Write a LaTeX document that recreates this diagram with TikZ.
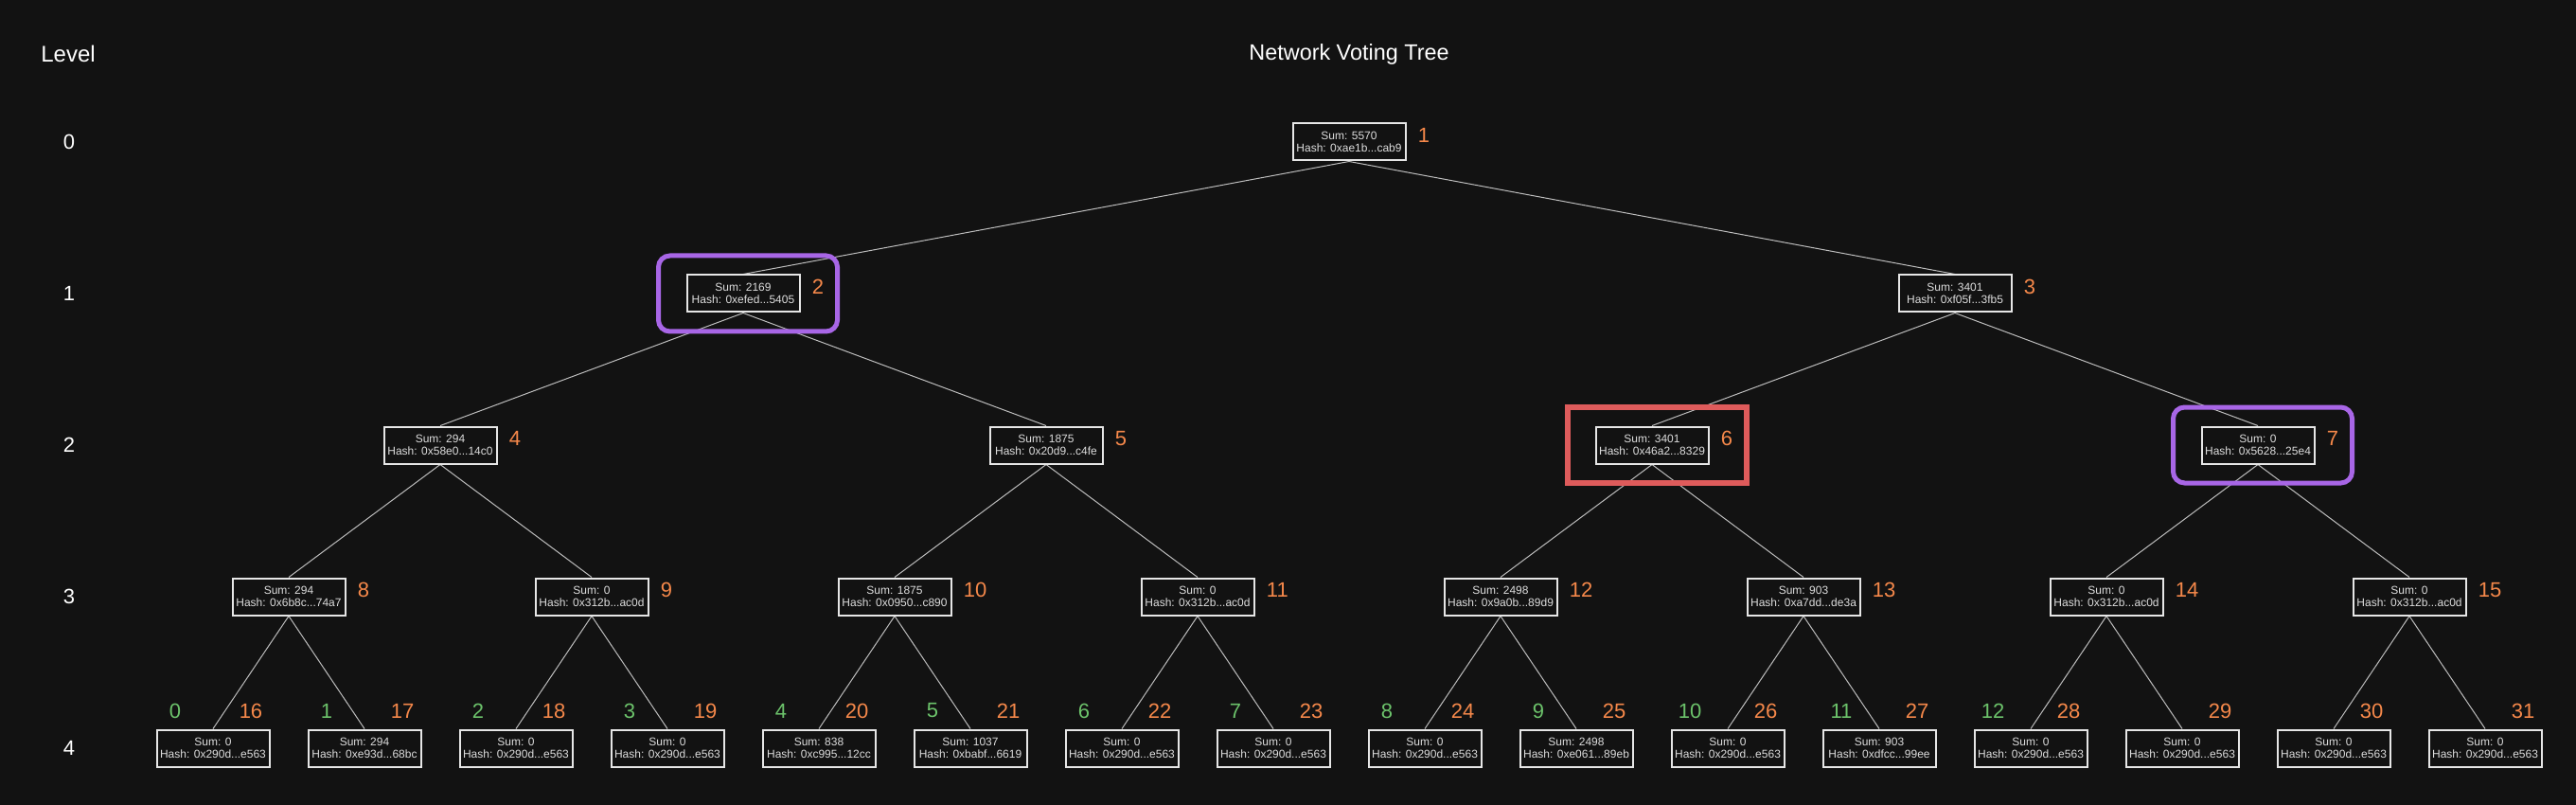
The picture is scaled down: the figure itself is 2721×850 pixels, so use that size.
\documentclass[tikz,border=0pt]{standalone}
\usepackage{fontspec}
\setmainfont{Liberation Sans}
\usetikzlibrary{calc,positioning}
\definecolor{bgdark}{HTML}{121212}
\definecolor{boxline}{HTML}{E6E6E6}
\definecolor{boxtext}{HTML}{DDDDDD}
\definecolor{edgegrey}{HTML}{BDBDBD}
\definecolor{idxorange}{HTML}{F5884A}
\definecolor{leafgreen}{HTML}{6CC36B}
\definecolor{pickpurple}{HTML}{A866E6}
\definecolor{pickred}{HTML}{DE5B5B}
\pgfdeclarelayer{back}
\pgfdeclarelayer{wires}
\pgfsetlayers{back,wires,main}
\tikzset{
  treenode/.style={draw=boxline,line width=1pt,fill=bgdark,text=boxtext,
    minimum width=59.5pt,minimum height=19.5pt,inner sep=0pt,align=center,
    font=\fontsize{6pt}{6.7pt}\selectfont},
  idx/.style={text=idxorange,inner sep=0pt,font=\fontsize{11pt}{11pt}\selectfont},
  leafidx/.style={text=leafgreen,inner sep=0pt,font=\fontsize{11pt}{11pt}\selectfont},
  levelnum/.style={text=white,font=\fontsize{11pt}{11pt}\selectfont},
  edge/.style={draw=edgegrey,line width=0.5pt},
  pickframe/.style={draw=pickpurple,line width=2.5pt,rounded corners=6pt,
    minimum width=94.5pt,minimum height=40pt,inner sep=0pt},
  badframe/.style={draw=pickred,line width=3pt,
    minimum width=94.5pt,minimum height=40pt,inner sep=0pt}
}

\begin{document}
\begin{tikzpicture}[x=0.5pt,y=-0.5pt]
  \useasboundingbox (0,0) rectangle (2721,850);
  \begin{pgfonlayer}{back}
    \fill[bgdark] (0,0) rectangle (2721,850);
  \end{pgfonlayer}

  % headings and levels
  \node[text=white,font=\fontsize{11.7pt}{11.7pt}\selectfont] (title) at (1425,57) {Network Voting Tree};
  \node[text=white,font=\fontsize{12pt}{12pt}\selectfont] (levelhead) at (72,57) {Level};
  \node[levelnum] (lev0) at (73,150) {0};
  \node[levelnum] (lev1) at (73,310) {1};
  \node[levelnum] (lev2) at (73,470) {2};
  \node[levelnum] (lev3) at (73,630) {3};
  \node[levelnum] (lev4) at (73,790) {4};

  % level 0 and 1
  \node[treenode] (n1) at (1425,150) {Sum: 5570\\Hash: 0xae1b...cab9};
  \node[treenode] (n2) at (785,310) {Sum: 2169\\Hash: 0xefed...5405};
  \node[treenode] (n3) at (2065,310) {Sum: 3401\\Hash: 0xf05f...3fb5};

  % level 2
  \node[treenode] (n4) at (465,470) {Sum: 294\\Hash: 0x58e0...14c0};
  \node[treenode] (n5) at (1105,470) {Sum: 1875\\Hash: 0x20d9...c4fe};
  \node[treenode] (n6) at (1745,470) {Sum: 3401\\Hash: 0x46a2...8329};
  \node[treenode] (n7) at (2385,470) {Sum: 0\\Hash: 0x5628...25e4};

  % level 3
  \node[treenode] (n8) at (305,630) {Sum: 294\\Hash: 0x6b8c...74a7};
  \node[treenode] (n9) at (625,630) {Sum: 0\\Hash: 0x312b...ac0d};
  \node[treenode] (n10) at (945,630) {Sum: 1875\\Hash: 0x0950...c890};
  \node[treenode] (n11) at (1265,630) {Sum: 0\\Hash: 0x312b...ac0d};
  \node[treenode] (n12) at (1585,630) {Sum: 2498\\Hash: 0x9a0b...89d9};
  \node[treenode] (n13) at (1905,630) {Sum: 903\\Hash: 0xa7dd...de3a};
  \node[treenode] (n14) at (2225,630) {Sum: 0\\Hash: 0x312b...ac0d};
  \node[treenode] (n15) at (2545,630) {Sum: 0\\Hash: 0x312b...ac0d};

  % level 4 (leaves)
  \node[treenode] (n16) at (225,790) {Sum: 0\\Hash: 0x290d...e563};
  \node[treenode] (n17) at (385,790) {Sum: 294\\Hash: 0xe93d...68bc};
  \node[treenode] (n18) at (545,790) {Sum: 0\\Hash: 0x290d...e563};
  \node[treenode] (n19) at (705,790) {Sum: 0\\Hash: 0x290d...e563};
  \node[treenode] (n20) at (865,790) {Sum: 838\\Hash: 0xc995...12cc};
  \node[treenode] (n21) at (1025,790) {Sum: 1037\\Hash: 0xbabf...6619};
  \node[treenode] (n22) at (1185,790) {Sum: 0\\Hash: 0x290d...e563};
  \node[treenode] (n23) at (1345,790) {Sum: 0\\Hash: 0x290d...e563};
  \node[treenode] (n24) at (1505,790) {Sum: 0\\Hash: 0x290d...e563};
  \node[treenode] (n25) at (1665,790) {Sum: 2498\\Hash: 0xe061...89eb};
  \node[treenode] (n26) at (1825,790) {Sum: 0\\Hash: 0x290d...e563};
  \node[treenode] (n27) at (1985,790) {Sum: 903\\Hash: 0xdfcc...99ee};
  \node[treenode] (n28) at (2145,790) {Sum: 0\\Hash: 0x290d...e563};
  \node[treenode] (n29) at (2305,790) {Sum: 0\\Hash: 0x290d...e563};
  \node[treenode] (n30) at (2465,790) {Sum: 0\\Hash: 0x290d...e563};
  \node[treenode] (n31) at (2625,790) {Sum: 0\\Hash: 0x290d...e563};

  % parent to child
  \begin{pgfonlayer}{wires}
    \foreach \c in {2,...,31} {
      \pgfmathtruncatemacro{\p}{\c/2}
      \draw[edge] (n\p.south) -- (n\c.north);
    }
  \end{pgfonlayer}

  % node numbers
  \foreach \i in {1,...,15}
    \node[idx,right=6pt of n\i,yshift=3.5pt] (l\i) {\i};
  \foreach \i in {16,...,31}
    \node[idx] (l\i) at ($(n\i.north)+(40,-19)$) {\i};
  \foreach \i [evaluate=\i as \g using int(\i-16)] in {16,...,28}
    \node[leafidx] (g\i) at ($(n\i.north)+(-40,-19)$) {\g};

  % highlighted nodes
  \node[pickframe] (f2) at ($(n2)+(5,0)$) {};
  \node[pickframe] (f7) at ($(n7)+(5,0)$) {};
  \node[badframe] (f6) at ($(n6)+(5,0)$) {};
\end{tikzpicture}
\end{document}
